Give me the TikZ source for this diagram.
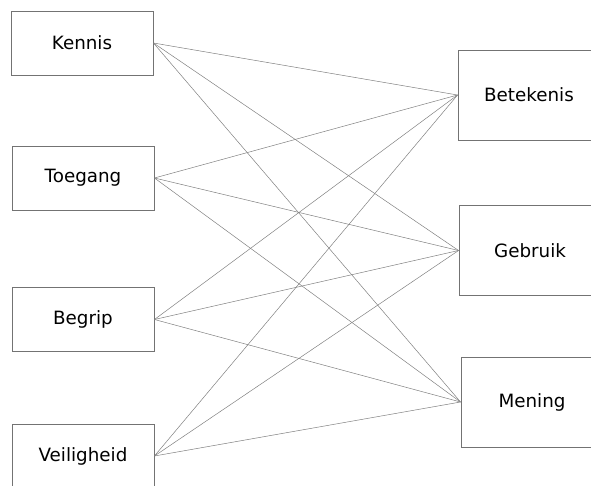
\documentclass[tikz,border=0pt]{standalone}
\usepackage{fontspec}
\setmainfont{DejaVu Sans}
\usetikzlibrary{positioning}

\begin{document}
\begin{tikzpicture}[
  x=1pt, y=-1pt,
  factor/.style={draw=black!55, line width=0.9pt, fill=white, inner sep=0pt,
    minimum width=142pt, minimum height=64pt, font=\fontsize{18.3}{21}\selectfont},
  effect/.style={factor, minimum height=90pt},
  link/.style={draw=black!50, line width=0.5pt}
]
\useasboundingbox (0,0) rectangle (591,486);
\clip (0,0) rectangle (591,486);

\node[factor] (kennis) at (82,43) {Kennis};
\node[factor] (toegang) at (83,178) {Toegang};
\node[factor] (begrip) at (83,319.5) {Begrip};
\node[factor] (veiligheid) at (83,456) {Veiligheid};

\node[effect] (betekenis) at (529,95) {Betekenis};
\node[effect] (gebruik) at (530,250.5) {Gebruik};
\node[effect] (mening) at (532,402) {Mening};

\foreach \src in {kennis,toegang,begrip,veiligheid}
  \foreach \dst in {betekenis,gebruik,mening}
    \draw[link] (\src.east) -- (\dst.west);
\end{tikzpicture}
\end{document}
